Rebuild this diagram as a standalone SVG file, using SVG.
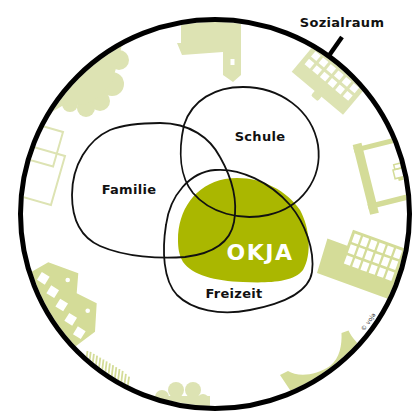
<svg xmlns="http://www.w3.org/2000/svg" width="417" height="412" viewBox="0 0 417 412">
  <defs>
    <clipPath id="inner" clipPathUnits="userSpaceOnUse">
      <circle cx="215" cy="214" r="192"/>
    </clipPath>
  </defs>
  <style>
    .lt { fill: #dde3b3; }
    .md { fill: #d4dc98; }
    .win { fill: #ffffff; }
    .olt { fill: none; stroke: #dde3b3; stroke-width: 2; }
    .grass { fill: none; stroke: #d4dc98; stroke-width: 1.8; }
    .set { fill: none; stroke: #111111; stroke-width: 1.8; }
    .lbl { font-family: "DejaVu Sans", "Liberation Sans", sans-serif; font-weight: bold; font-size: 13px; fill: #111111; text-anchor: middle; letter-spacing: 0.3px; }
  </style>
  <rect width="417" height="412" fill="#ffffff"/>

  <!-- background pictograms -->
  <g id="background" clip-path="url(#inner)">
    <!-- top-left cloud -->
    <g class="lt">
      <circle cx="119" cy="60" r="10"/>
      <circle cx="112" cy="84" r="12"/>
      <circle cx="100" cy="101" r="10"/>
      <circle cx="86" cy="108" r="9"/>
      <circle cx="70" cy="104" r="8"/>
      <polygon points="62,106 86,104 100,96 112,82 119,58 125,30 30,30 30,125"/>
    </g>
    <!-- top building -->
    <polygon class="lt" points="181,10 181,43 177,43 182,55 223,52 223,75 233,82 241,75 241,10"/>
    <rect class="win" x="230.5" y="59" width="4" height="6"/>
    <!-- top-right building with windows -->
    <g transform="translate(291.7,71.7) rotate(40)">
      <rect class="lt" x="0" y="-55" width="67" height="55"/>
      <rect class="lt" x="30" y="-2" width="9" height="8" rx="2"/>
      <g class="win">
        <rect x="5" y="-21" width="7" height="7"/><rect x="15" y="-21" width="7" height="7"/><rect x="25" y="-21" width="7" height="7"/><rect x="35" y="-21" width="7" height="7"/><rect x="45" y="-21" width="7" height="7"/><rect x="55" y="-21" width="7" height="7"/>
        <rect x="5" y="-31" width="7" height="7"/><rect x="15" y="-31" width="7" height="7"/><rect x="25" y="-31" width="7" height="7"/><rect x="35" y="-31" width="7" height="7"/><rect x="45" y="-31" width="7" height="7"/><rect x="55" y="-31" width="7" height="7"/>
        <rect x="5" y="-41" width="7" height="7"/><rect x="15" y="-41" width="7" height="7"/><rect x="25" y="-41" width="7" height="7"/><rect x="35" y="-41" width="7" height="7"/><rect x="45" y="-41" width="7" height="7"/><rect x="55" y="-41" width="7" height="7"/>
      </g>
    </g>
    <!-- right outline building -->
    <g class="md" transform="translate(352.7,145) rotate(-14)">
      <rect x="0" y="0" width="9" height="72"/>
      <rect x="0" y="3" width="70" height="5"/>
      <rect x="0" y="61" width="70" height="5.5"/>
      <rect x="33" y="34" width="11" height="9" fill="none" stroke="#d4dc98" stroke-width="1.5"/>
      <rect x="35" y="29" width="7" height="5" fill="none" stroke="#d4dc98" stroke-width="1.5"/>
      <rect x="36" y="43" width="5" height="3"/>
    </g>
    <!-- right building with tower -->
    <g transform="translate(317,273) rotate(20)">
      <polygon class="md" points="0,0 -2,-36 19,-36 19,-53 95,-53 95,0"/>
      <g class="win">
        <rect x="22" y="-50" width="6.5" height="9"/><rect x="30.8" y="-50" width="6.5" height="9"/><rect x="39.6" y="-50" width="6.5" height="9"/><rect x="48.4" y="-50" width="6.5" height="9"/><rect x="57.2" y="-50" width="6.5" height="9"/><rect x="66" y="-50" width="6.5" height="9"/>
        <rect x="22" y="-38.5" width="6.5" height="9"/><rect x="30.8" y="-38.5" width="6.5" height="9"/><rect x="39.6" y="-38.5" width="6.5" height="9"/><rect x="48.4" y="-38.5" width="6.5" height="9"/><rect x="57.2" y="-38.5" width="6.5" height="9"/><rect x="66" y="-38.5" width="6.5" height="9"/>
        <rect x="22" y="-27" width="6.5" height="9"/><rect x="30.8" y="-27" width="6.5" height="9"/><rect x="39.6" y="-27" width="6.5" height="9"/><rect x="48.4" y="-27" width="6.5" height="9"/><rect x="57.2" y="-27" width="6.5" height="9"/><rect x="66" y="-27" width="6.5" height="9"/>
      </g>
    </g>
    <!-- left outlined rectangles -->
    <rect class="olt" x="-45" y="0" width="45" height="36" transform="translate(63,132) rotate(16)"/>
    <rect class="olt" x="-50" y="0" width="50" height="51" transform="translate(65,156) rotate(16)"/>
    <!-- bottom-left houses -->
    <polygon class="md" points="31.7,271.7 48.3,262.3 78.3,273.3 76.7,293.3 96.7,303.3 95,331.7 75,346.7 40,365 5,290"/>
    <g class="win">
      <rect x="-4.6" y="-4.6" width="9.2" height="9.2" transform="translate(43.3,278.3) rotate(32)"/>
      <rect x="-4.6" y="-4.6" width="9.2" height="9.2" transform="translate(52.7,291.7) rotate(32)"/>
      <rect x="-4.6" y="-4.6" width="9.2" height="9.2" transform="translate(61.7,305) rotate(32)"/>
      <rect x="-4.6" y="-4.6" width="9.2" height="9.2" transform="translate(70.7,319.3) rotate(32)"/>
      <rect x="-4.6" y="-4.6" width="9.2" height="9.2" transform="translate(79.3,332.7) rotate(32)"/>
      <circle cx="67.7" cy="280" r="2.3"/>
      <circle cx="87.7" cy="310.7" r="2.3"/>
    </g>
    <!-- grass -->
    <path class="grass" d="M86,362 l1.5,-11 M89.2,363.9 l1.5,-12 M92.4,365.8 l1.5,-12 M95.6,367.7 l1.5,-12 M98.8,369.6 l1.5,-12 M102,371.5 l1.5,-12 M105.2,373.4 l1.5,-12 M108.4,375.3 l1.5,-12 M111.6,377.2 l1.5,-12 M114.8,379.1 l1.5,-12 M118,381 l1.5,-12 M121.2,382.9 l1.5,-12 M124.4,384.8 l1.5,-11 M127.6,386.7 l1.5,-10"/>
    <!-- bottom cloud -->
    <g class="lt">
      <circle cx="162" cy="397" r="7"/>
      <circle cx="176" cy="390" r="8"/>
      <circle cx="193" cy="390" r="8"/>
      <circle cx="203" cy="400" r="6"/>
      <rect x="155" y="396" width="55" height="25"/>
    </g>
    <!-- bottom-right bench -->
    <path class="md" d="M280,375 L288,371 C297,377 316,376 330,366 C340,358 342,345 341.5,333 L348.5,330.5 C352,338 358,344 366,352 L300,405 Z"/>
  </g>
  <text x="370" y="323" transform="rotate(-55 370 323)" font-family="'DejaVu Sans', sans-serif" font-size="6" fill="#333333" text-anchor="middle">© voja</text>

  <!-- OKJA -->
  <g id="okja">
    <path d="M178,240 C178,210 195,185 225,179 C255,174 285,188 300,210 C310,228 312,255 303,270 C293,283 265,283 243,282 C215,281 192,275 183,262 C179,255 178,248 178,240 Z" fill="#aab700"/>
    <text x="260" y="260" font-family="'DejaVu Sans', 'Liberation Sans', sans-serif" font-weight="bold" font-size="22" fill="#ffffff" text-anchor="middle" letter-spacing="1.5">OKJA</text>
  </g>

  <!-- sets -->
  <g id="familie">
    <path class="set" d="M160,123 C190,123 210,138 220,157 C232,178 238,200 234,222 C230,244 210,254 185,257 C160,259 125,257 100,246 C80,237 72,218 72,195 C72,165 88,140 110,130 C125,124 143,123 160,123 Z"/>
    <text class="lbl" x="129" y="194">Familie</text>
  </g>
  <g id="schule">
    <path class="set" d="M243,87 C280,87 312,110 318,145 C323,180 300,208 268,215 C240,221 210,213 193,193 C180,177 178,152 184,125 C192,100 215,87 243,87 Z"/>
    <text class="lbl" x="260" y="141">Schule</text>
  </g>
  <g id="freizeit">
    <path class="set" d="M215,170 C240,168 270,182 290,205 C305,223 315,250 312,272 C309,292 285,303 250,310 C220,316 192,310 177,295 C163,280 162,250 166,225 C170,195 190,172 215,170 Z"/>
    <text class="lbl" x="234" y="298">Freizeit</text>
  </g>

  <!-- Sozialraum -->
  <g id="sozialraum">
    <circle cx="215" cy="214" r="194.5" fill="none" stroke="#000000" stroke-width="5"/>
    <text class="lbl" x="342" y="27">Sozialraum</text>
  </g>

  <g id="connectors">
    <line x1="342" y1="37" x2="328" y2="57" stroke="#000000" stroke-width="4.5"/>
  </g>
</svg>
